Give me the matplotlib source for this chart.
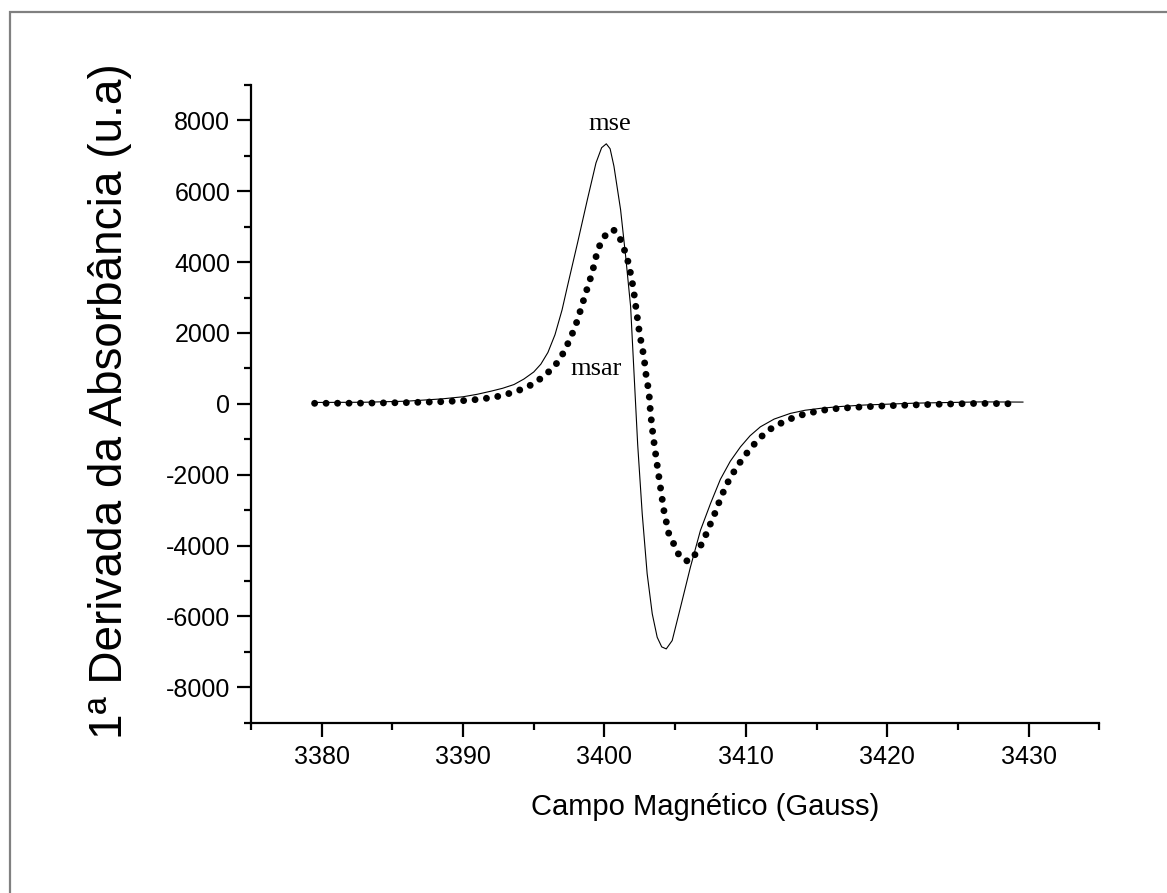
import numpy as np
import matplotlib
matplotlib.use('Agg')
from matplotlib import pyplot as plt
from matplotlib.patches import Rectangle
from matplotlib.ticker import MultipleLocator

# curva mse (linha continua)
mse_x = [3379.6, 3383, 3386, 3388.5, 3390, 3391, 3392, 3392.8, 3393.6, 3394.3,
         3395.0, 3395.5, 3396.0, 3396.5, 3397.0, 3397.4, 3398.1, 3398.8, 3399.4, 3399.8,
         3400.13, 3400.4, 3400.67, 3401.14, 3401.5, 3401.85, 3402.35, 3402.67, 3403.02, 3403.38,
         3403.73, 3404.05, 3404.37, 3404.79, 3405.38, 3406.08, 3406.79, 3407.5, 3408.2, 3408.9,
         3409.62, 3410.3, 3411.03, 3412, 3413.15, 3414.2, 3415.27, 3416.7, 3418.34, 3422,
         3426.6, 3429.6]
mse_y = [40, 45, 75, 140, 200, 270, 360, 440, 545, 700,
         900, 1120, 1450, 1950, 2650, 3350, 4550, 5780, 6800, 7230,
         7340, 7200, 6709, 5482, 4161, 2747, -1150, -3098, -4795, -5926,
         -6588, -6860, -6917, -6682, -5740, -4609, -3570, -2815, -2130, -1620,
         -1214, -900, -648, -430, -269, -180, -127, -75, -34, 20,
         55, 50]

# curva msar (pontilhada)
msar_x = [3379.5, 3383, 3386, 3388.5, 3390, 3391.1, 3391.95, 3392.72, 3393.52, 3394.35,
          3395.1, 3395.88, 3396.54, 3397.08, 3397.48, 3397.84, 3398.14, 3398.38, 3398.9, 3399.13,
          3399.32, 3399.53, 3399.91, 3400.3, 3400.62, 3400.95, 3401.19, 3401.49, 3401.73, 3402.04,
          3402.25, 3402.48, 3402.79, 3402.97, 3403.14, 3403.26, 3403.45, 3403.68, 3403.92, 3404.2,
          3404.55, 3404.95, 3405.31, 3405.7, 3406.04, 3406.63, 3407.03, 3407.38, 3407.73, 3408.04,
          3408.6, 3409.22, 3409.74, 3410.38, 3411.08, 3411.86, 3412.68, 3413.51, 3414.33, 3415.15,
          3415.98, 3417.63, 3419.99, 3423.3, 3426.47, 3429.3]
msar_y = [15, 20, 35, 60, 90, 127, 173, 229, 325, 438,
          597, 835, 1098, 1428, 1757, 2088, 2419, 2747, 3409, 3692,
          4020, 4351, 4682, 4860, 4917, 4800, 4586, 4257, 3926, 3267,
          2653, 1994, 1332, 721, 362, -269, -930, -1590, -2249, -3004,
          -3663, -3994, -4305, -4420, -4447, -4136, -3833, -3494, -3174, -2843,
          -2300, -1873, -1562, -1231, -930, -676, -506, -365, -269, -204,
          -147, -99, -54, -14, 14, 0]

plt.rcParams['font.family'] = ['Liberation Sans', 'DejaVu Sans']
plt.rcParams['axes.unicode_minus'] = False

fig = plt.figure(figsize=(11.67, 8.93), dpi=100)
ax = fig.add_axes([251/1167, 1 - 722.7/893, (1099.3 - 251)/1167, (722.7 - 85)/893])

# moldura cinza da figura
fig.patches.append(Rectangle((10/1167, -0.1), 1.2, 1 - 12/893 + 0.1, transform=fig.transFigure,
                             fill=False, edgecolor='#808080', linewidth=1.6))

ax.plot(mse_x, mse_y, color='black', linewidth=0.8)
ax.plot(msar_x, msar_y, color='black', linewidth=5.0, dashes=(0.001, 1.65),
        dash_capstyle='round')

ax.text(3400.4, 7717, 'mse', family='Liberation Serif', fontsize=19, ha='center', va='baseline')
ax.text(3399.4, 815, 'msar', family='Liberation Serif', fontsize=19, ha='center', va='baseline')

ax.set_xlim(3375, 3435)
ax.set_ylim(-9000, 9000)
ax.xaxis.set_major_locator(MultipleLocator(10))
ax.xaxis.set_minor_locator(MultipleLocator(5))
ax.yaxis.set_major_locator(MultipleLocator(2000))
ax.yaxis.set_minor_locator(MultipleLocator(1000))

for s in ['top', 'right']:
    ax.spines[s].set_visible(False)
for s in ['left', 'bottom']:
    ax.spines[s].set_linewidth(1.6)

ax.tick_params(which='major', direction='out', length=10, width=1.6, labelsize=18)
ax.tick_params(which='minor', direction='out', length=5, width=1.6)
ax.tick_params(axis='y', which='major', pad=5)
ax.tick_params(axis='x', which='major', pad=6)

# sem rotulos nos extremos -9000/9000 (sao minor ticks)
ax.set_yticks(np.arange(-8000, 8001, 2000))

ax.set_xlabel('Campo Magnético (Gauss)', fontsize=21)
ax.xaxis.set_label_coords(0.535, -0.11)
ax.set_ylabel('1ª Derivada da Absorbância (u.a)', fontsize=33)
ax.yaxis.set_label_coords(-0.14, 0.505)

fig.savefig('out.png', dpi=100)
